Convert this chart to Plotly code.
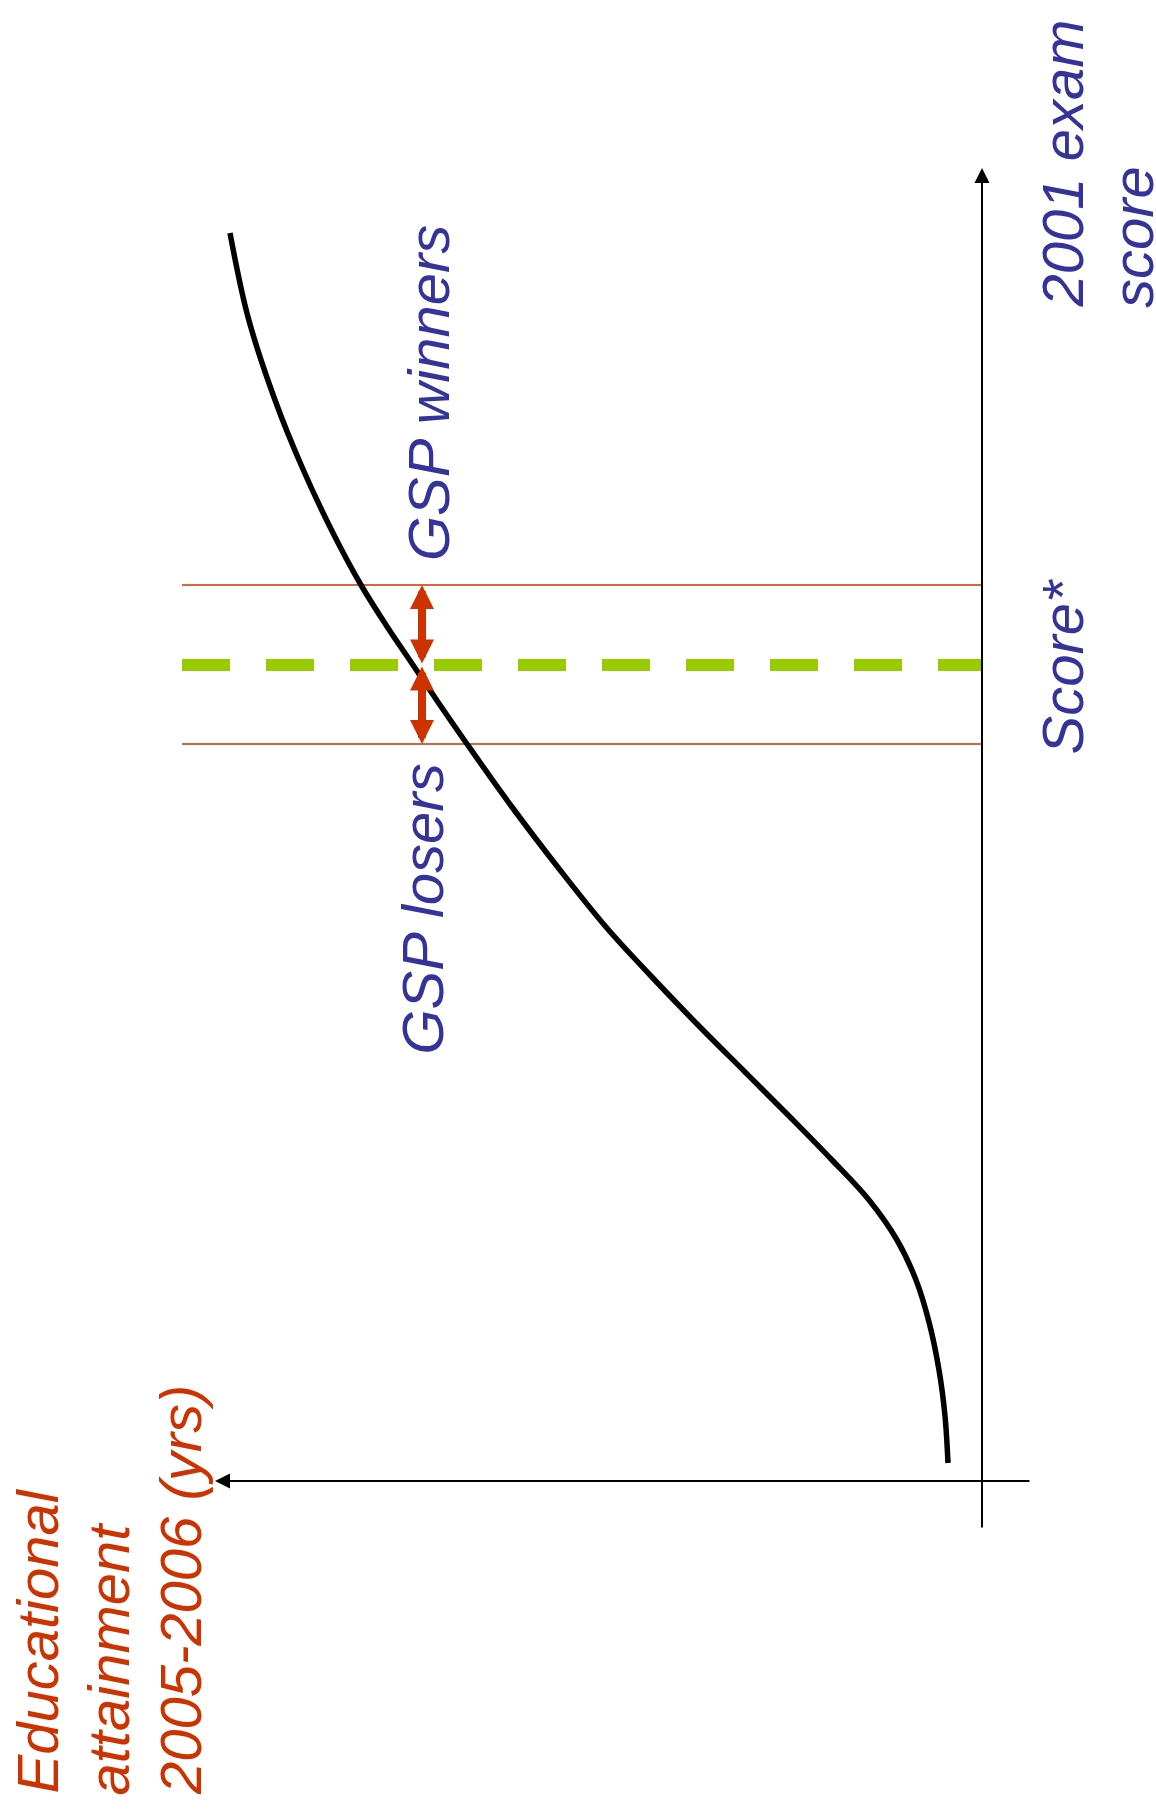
import plotly.graph_objects as go

# ---- data (conceptual units: attainment along horizontal axis, exam score along vertical axis)
attainment_curve = [7.52, 7.34, 7.07, 6.80, 6.49, 6.21, 5.96, 5.69, 5.42, 5.15, 4.70, 4.22,
                    3.76, 3.32, 2.85, 2.37, 1.91, 1.50, 1.13, 0.85, 0.66, 0.53, 0.43, 0.37, 0.34]
score_curve = [12.48, 11.64, 10.81, 10.14, 9.48, 8.96, 8.56, 8.16, 7.76, 7.37, 6.74, 6.11,
               5.54, 5.06, 4.57, 4.09, 3.63, 3.21, 2.81, 2.41, 2.01, 1.59, 1.11, 0.65, 0.18]

score_cutoff = 8.16          # Score*
band_upper = 8.96            # upper edge of the window around the cutoff
band_lower = 7.37            # lower edge of the window
band_attainment = [8.00, 0.0]  # horizontal extent of band lines
arrow_attainment = 5.60      # where the winner/loser arrows sit

score_axis_span = [-0.48, 13.13]
attain_axis_span = [-0.49, 7.67]

BLUE = "#333399"
RED = "#CC3300"
GREEN = "#99CC00"
FONT = "Liberation Sans, Arial, sans-serif"

fig = go.Figure()

# band lines
for s in (band_upper, band_lower):
    fig.add_trace(go.Scatter(x=band_attainment, y=[s, s], mode="lines",
                             line=dict(color=RED, width=1.6), hoverinfo="skip"))
# cutoff dashed line
fig.add_trace(go.Scatter(x=band_attainment, y=[score_cutoff, score_cutoff], mode="lines",
                         line=dict(color=GREEN, width=12, dash="48px,36px"), hoverinfo="skip"))
# curve
fig.add_trace(go.Scatter(x=attainment_curve, y=score_curve, mode="lines",
                         line=dict(color="black", width=5.5, shape="spline", smoothing=1.0),
                         hoverinfo="skip"))

ann = []
# vertical (score) axis with arrow
ann.append(dict(x=0, y=score_axis_span[1], ax=0, ay=score_axis_span[0], xref="x", yref="y",
                axref="x", ayref="y", text="", showarrow=True, arrowhead=2, arrowsize=1.5,
                arrowwidth=2, arrowcolor="black", standoff=0))
# horizontal (attainment) axis with arrow
ann.append(dict(x=attain_axis_span[1], y=0, ax=attain_axis_span[0], ay=0, xref="x", yref="y",
                axref="x", ayref="y", text="", showarrow=True, arrowhead=2, arrowsize=1.5,
                arrowwidth=2, arrowcolor="black", standoff=0))
# double arrows
for tip in (band_upper, band_lower):
    ann.append(dict(x=arrow_attainment, y=tip, ax=arrow_attainment, ay=score_cutoff,
                    xref="x", yref="y", axref="x", ayref="y", text="", showarrow=True,
                    arrowhead=2, startarrowhead=2, arrowside="end+start", arrowsize=0.6,
                    startarrowsize=0.6, arrowwidth=8, arrowcolor=RED, standoff=0, startstandoff=0))

def label(text, x, y, color):
    return dict(x=x, y=y, xref="x", yref="y", text=text, showarrow=False, textangle=-90,
                xanchor="center", yanchor="middle",
                font=dict(family=FONT, size=58, color=color, style="italic"))

ann += [
    label("2001 exam", -0.80, 13.175, BLUE),
    label("score", -1.50, 12.44, BLUE),
    label("Score*", -0.80, 8.145, BLUE),
    label("GSP winners", 5.54, 10.88, BLUE),
    label("GSP losers", 5.60, 5.715, BLUE),
    label("Educational", 9.45, -1.605, RED),
    label("attainment", 8.74, -1.775, RED),
    label("2005-2006 (yrs)", 8.02, -1.09, RED),
]

fig.update_layout(
    width=1156, height=1811, autosize=False,
    margin=dict(l=0, r=0, t=0, b=0, pad=0),
    paper_bgcolor="white", plot_bgcolor="white",
    showlegend=False,
    xaxis=dict(range=[9.82, -1.74], visible=False, fixedrange=True),
    yaxis=dict(range=[-3.30, 14.81], visible=False, fixedrange=True),
    annotations=ann,
)

fig.write_html("out.html", config={"displayModeBar": False},
               post_script="document.body.style.margin='0px';")
